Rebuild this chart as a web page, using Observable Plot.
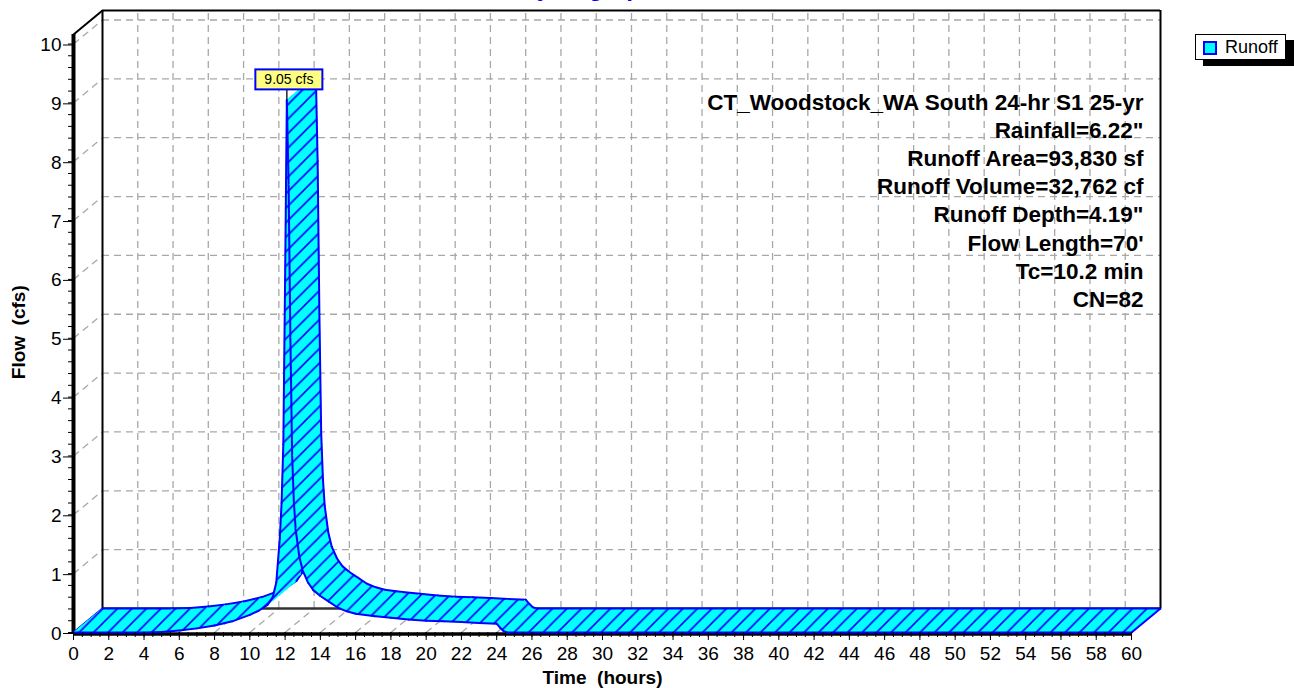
<!DOCTYPE html>
<html><head><meta charset="utf-8">
<script src="https://cdn.jsdelivr.net/npm/d3@7"></script>
<script src="https://cdn.jsdelivr.net/npm/@observablehq/plot@0.6"></script>
<style>
body{margin:0;background:#fff;width:1294px;height:688px;overflow:hidden;position:relative;font-family:"Liberation Sans",Arial,sans-serif}
#legend{position:absolute;left:1195px;top:34px;width:91px;height:26px;border:1px solid #000;background:#fff;box-shadow:8px 6px 0 #000;box-sizing:border-box}
#legend .sw{position:absolute;left:7px;top:6px;width:14px;height:14px;background:#00ffff;border:2px solid #0000ff;box-sizing:border-box}
#legend .lb{position:absolute;left:29px;top:1px;font-size:18px;line-height:22px;color:#000}
</style></head><body>
<div id="chart"></div>
<div id="legend"><div class="sw"></div><div class="lb">Runoff</div></div>
<script>
// ---- data ----
const times = [0, 4, 5, 6, 7, 8, 9, 10, 10.5, 11, 11.3, 11.5, 11.7, 11.8, 11.9, 12.0, 12.1, 12.2, 12.3, 12.4, 12.5, 12.6, 12.8, 13.0, 13.3, 13.6, 14, 14.5, 15, 15.5, 16, 17, 18, 19, 20, 21, 22, 23, 24, 24.2, 24.4, 24.6, 60];
const flows = [0, 0, 0.01, 0.035, 0.07, 0.12, 0.19, 0.3, 0.37, 0.47, 0.6, 0.85, 1.6, 2.2, 3.2, 6.0, 9.05, 7.6, 5.0, 3.0, 2.2, 1.75, 1.3, 1.05, 0.85, 0.72, 0.62, 0.52, 0.42, 0.36, 0.32, 0.28, 0.25, 0.22, 0.2, 0.19, 0.18, 0.16, 0.15, 0.08, 0.02, 0, 0];
const xTicks = d3.range(0, 61, 2);
const xMinor = d3.range(0, 60.01, 0.5);
const yTicks = d3.range(0, 11, 1);
const yMinor = d3.range(0, 10.01, 0.2);
const titleText = "Hydrograph";
const seriesName = "Runoff";
const peakLabel = "9.05 cfs";
const infoLines = ["CT_Woodstock_WA South 24-hr S1 25-yr", "Rainfall=6.22\"", "Runoff Area=93,830 sf", "Runoff Volume=32,762 cf", "Runoff Depth=4.19\"", "Flow Length=70'", "Tc=10.2 min", "CN=82"];
const xLabel = "Time  (hours)";
const yLabel = "Flow  (cfs)";

// ---- layout ----
const W = 1294, H = 688, mL = 73, mR = 163, mT = 43.5, mB = 56;
const xMax = 60, yMax = 10;
const xPx = (W - mL - mR) / xMax, yPx = (H - mT - mB) / yMax;
const DX = 29 / xPx, DY = 24 / yPx;       // 3D depth offset in data units
const topQ = (H - mB - 34) / yPx;          // top of axis frame

const pts = times.map((t, i) => ({t, q: flows[i]}));
const peak = pts.reduce((a, b) => (b.q > a.q ? b : a));

const font = "'Liberation Sans', Arial, sans-serif";
const grid = {stroke: "#a8a8a8", strokeWidth: 1.3, strokeDasharray: "7,5"};

// ribbon marks: each segment quad filled, then its front/back edges stroked
const ribbon = [];
ribbon.push(Plot.link([{t: 0, q: 0}], {x1: "t", y1: "q", x2: d => d.t + DX, y2: d => d.q + DY, stroke: "#0000ff", strokeWidth: 2}));
for (let i = 0; i < pts.length - 1; i++) {
  const a = pts[i], b = pts[i + 1];
  const quad = [
    {t: a.t, q: a.q}, {t: b.t, q: b.q},
    {t: b.t + DX, q: b.q + DY}, {t: a.t + DX, q: a.q + DY}, {t: a.t, q: a.q}
  ];
  ribbon.push(Plot.line(quad, {x: "t", y: "q", fill: "url(#hatch)", stroke: "url(#hatch)", strokeWidth: 1}));
  ribbon.push(Plot.line([quad[0], quad[1]], {x: "t", y: "q", stroke: "#0000ff", strokeWidth: 2}));
  ribbon.push(Plot.line([quad[3], quad[2]], {x: "t", y: "q", stroke: "#0000ff", strokeWidth: 2}));
}
const last = pts[pts.length - 1];
ribbon.push(Plot.link([last], {x1: "t", y1: "q", x2: d => d.t + DX, y2: d => d.q + DY, stroke: "#0000ff", strokeWidth: 2}));

const chart = Plot.plot({
  width: W, height: H,
  marginLeft: mL, marginRight: mR, marginTop: mT, marginBottom: mB,
  x: {domain: [0, xMax], axis: null},
  y: {domain: [0, yMax], axis: null},
  style: {fontFamily: font, fontSize: "18px", color: "black", background: "white"},
  marks: [
    // back wall grid
    Plot.ruleY(yTicks.slice(1), {y: d => d + DY, x1: DX, x2: xMax + DX, ...grid}),
    Plot.ruleX(xTicks.slice(1, -1), {x: d => d + DX, y1: DY, y2: topQ + DY, ...grid}),
    // floor diagonals and left wall diagonals
    Plot.link(xTicks, {x1: d => d, y1: 0, x2: d => d + DX, y2: DY, ...grid}),
    Plot.link(yTicks.slice(1), {x1: 0, y1: d => d, x2: DX, y2: d => d + DY, ...grid}),
    // back wall frame
    Plot.ruleY([DY], {x1: DX, x2: xMax + DX, stroke: "#333", strokeWidth: 2.5}),
    Plot.ruleX([DX, xMax + DX], {y1: DY, y2: topQ + DY, stroke: "black", strokeWidth: 2}),
    Plot.ruleY([topQ + DY], {x1: DX, x2: xMax + DX, stroke: "black", strokeWidth: 2}),
    Plot.link([0], {x1: 0, y1: topQ, x2: DX, y2: topQ + DY, stroke: "black", strokeWidth: 2}),
    // front axes lines
    Plot.ruleX([0], {y1: 0, y2: topQ, stroke: "black", strokeWidth: 4}),
    Plot.ruleY([0], {x1: 0, x2: xMax, stroke: "black", strokeWidth: 3.5, dy: 1.5}),
    // ribbon
    ...ribbon,
    // peak label leader and text
    Plot.ruleX([peak], {x: "t", y1: "q", y2: d => d.q + 0.19, stroke: "black", strokeWidth: 1.3}),
    Plot.text([peak], {x: "t", y: "q", text: () => peakLabel, dx: 2, dy: -20, fontSize: 14, fill: "black", lineAnchor: "middle"}),
    // axes
    Plot.axisX({ticks: xMinor, tickSize: 5, tickFormat: () => "", label: null, tickPadding: 0}),
    Plot.axisX({ticks: xTicks, tickSize: 8, tickPadding: 6, fontSize: 19, label: null, tickFormat: d => String(d)}),
    Plot.axisY({ticks: yMinor, tickSize: 5, tickFormat: () => "", label: null, tickPadding: 0}),
    Plot.axisY({ticks: yTicks, tickSize: 10, tickPadding: 2, fontSize: 19, label: null, tickFormat: d => String(d), dy: 1}),
    // axis titles
    Plot.text([xLabel], {frameAnchor: "bottom", text: d => d, lineAnchor: "middle", textAnchor: "middle", dy: 45, fontWeight: "bold", fontSize: 19}),
    Plot.text([yLabel], {frameAnchor: "left", text: d => d, lineAnchor: "middle", textAnchor: "middle", rotate: -90, dx: -55, dy: -6, fontWeight: "bold", fontSize: 19}),
    // info block
    Plot.text([infoLines.join("\n")], {frameAnchor: "top-right", text: d => d, textAnchor: "end", lineAnchor: "top", lineHeight: 1.255, dx: 12, dy: 45.5, fontWeight: "bold", fontSize: 22.5}),
    // title (mostly off-canvas as in the reference)
    Plot.text([titleText], {frameAnchor: "top", text: d => d, lineAnchor: "middle", textAnchor: "middle", dx: -15, dy: -56, fontWeight: "bold", fontSize: 24, fill: "#0000ff"})
  ]
});

d3.select(chart).insert("defs", ":first-child").html(
  `<pattern id="hatch" patternUnits="userSpaceOnUse" width="14.5" height="14.5">
     <rect width="14.5" height="14.5" fill="#00ffff"/>
     <path d="M-1,15.5 L15.5,-1 M-3,3 L3,-3 M11.5,17.5 L17.5,11.5" stroke="#0000ff" stroke-width="1.6"/>
   </pattern>`);
document.getElementById("chart").appendChild(chart);

// box behind the peak label
d3.select(chart).selectAll("text").filter(function () { return this.textContent === peakLabel; }).each(function () {
  const b = this.getBBox();
  d3.select(this.parentNode).insert("rect", () => this)
    .attr("transform", this.getAttribute("transform"))
    .attr("x", b.x - 9).attr("y", b.y - 2).attr("width", b.width + 18).attr("height", b.height + 4)
    .attr("fill", "#ffff80").attr("stroke", "#0000ff").attr("stroke-width", 2);
});
</script></body></html>
